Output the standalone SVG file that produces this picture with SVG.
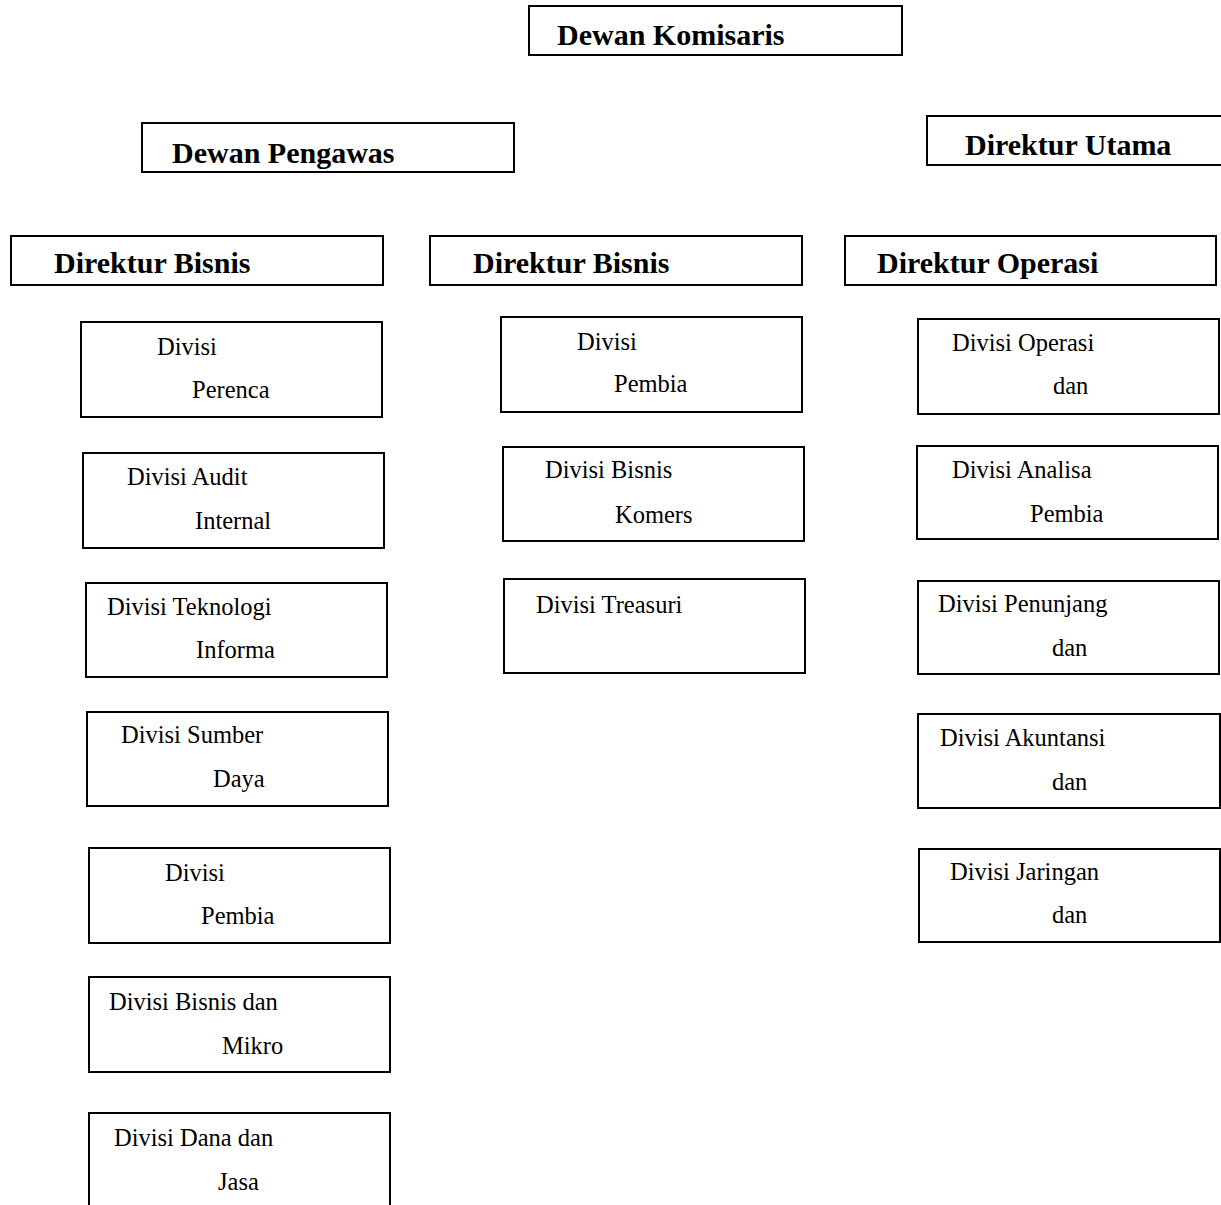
<svg xmlns="http://www.w3.org/2000/svg" width="1221" height="1205" viewBox="0 0 1221 1205">
<style>
.box{fill:#fff;stroke:#000;stroke-width:2}
.h{font-family:"Liberation Serif","Times New Roman",serif;font-weight:bold;font-size:30px;fill:#000}
.t{font-family:"Liberation Serif","Times New Roman",serif;font-size:24.5px;fill:#000}
</style>
<defs>
<clipPath id="cpPengawas"><rect x="142" y="123" width="372" height="48"/></clipPath>
<clipPath id="cpOperasi"><rect x="845" y="236" width="371" height="48"/></clipPath>
</defs>
<rect width="1221" height="1205" fill="#fff"/>
<g id="connectors"></g>
<g id="dewan-komisaris"><rect class="box" x="529" y="6" width="373" height="49"/><text class="h" x="557" y="45">Dewan Komisaris</text></g>
<g id="dewan-pengawas"><rect class="box" x="142" y="123" width="372" height="49"/><text class="h" x="172" y="163" clip-path="url(#cpPengawas)">Dewan Pengawas</text></g>
<g id="direktur-utama"><rect class="box" x="927" y="116" width="310" height="49"/><text class="h" x="965" y="155">Direktur Utama</text></g>
<g id="direktur-bisnis-1"><rect class="box" x="11" y="236" width="372" height="49"/><text class="h" x="54" y="273">Direktur Bisnis</text></g>
<g id="direktur-bisnis-2"><rect class="box" x="430" y="236" width="372" height="49"/><text class="h" x="473" y="273">Direktur Bisnis</text></g>
<g id="direktur-operasi"><rect class="box" x="845" y="236" width="371" height="49"/><text class="h" x="877" y="273" clip-path="url(#cpOperasi)">Direktur Operasi</text></g>

<g id="divisi-perenca"><rect class="box" x="81" y="322" width="301" height="95"/><text class="t" x="157" y="355">Divisi</text><text class="t" x="192" y="398">Perenca</text></g>
<g id="divisi-audit"><rect class="box" x="83" y="453" width="301" height="95"/><text class="t" x="127" y="485">Divisi Audit</text><text class="t" x="195" y="529">Internal</text></g>
<g id="divisi-teknologi"><rect class="box" x="86" y="583" width="301" height="94"/><text class="t" x="107" y="615">Divisi Teknologi</text><text class="t" x="196" y="658">Informa</text></g>
<g id="divisi-sumber"><rect class="box" x="87" y="712" width="301" height="94"/><text class="t" x="121" y="743">Divisi Sumber</text><text class="t" x="213" y="787">Daya</text></g>
<g id="divisi-pembia-1"><rect class="box" x="89" y="848" width="301" height="95"/><text class="t" x="165" y="881">Divisi</text><text class="t" x="201" y="924">Pembia</text></g>
<g id="divisi-bisnis-mikro"><rect class="box" x="89" y="977" width="301" height="95"/><text class="t" x="109" y="1010">Divisi Bisnis dan</text><text class="t" x="222" y="1054">Mikro</text></g>
<g id="divisi-dana"><rect class="box" x="89" y="1113" width="301" height="110"/><text class="t" x="114" y="1146">Divisi Dana dan</text><text class="t" x="218" y="1190">Jasa</text></g>

<g id="divisi-pembia-2"><rect class="box" x="501" y="317" width="301" height="95"/><text class="t" x="577" y="350">Divisi</text><text class="t" x="614" y="392">Pembia</text></g>
<g id="divisi-bisnis-komers"><rect class="box" x="503" y="447" width="301" height="94"/><text class="t" x="545" y="478">Divisi Bisnis</text><text class="t" x="615" y="523">Komers</text></g>
<g id="divisi-treasuri"><rect class="box" x="504" y="579" width="301" height="94"/><text class="t" x="536" y="613">Divisi Treasuri</text></g>

<g id="divisi-operasi"><rect class="box" x="918" y="319" width="301" height="95"/><text class="t" x="952" y="351">Divisi Operasi</text><text class="t" x="1053" y="394">dan</text></g>
<g id="divisi-analisa"><rect class="box" x="917" y="446" width="301" height="93"/><text class="t" x="952" y="478">Divisi Analisa</text><text class="t" x="1030" y="522">Pembia</text></g>
<g id="divisi-penunjang"><rect class="box" x="918" y="581" width="301" height="93"/><text class="t" x="938" y="612">Divisi Penunjang</text><text class="t" x="1052" y="656">dan</text></g>
<g id="divisi-akuntansi"><rect class="box" x="918" y="714" width="302" height="94"/><text class="t" x="940" y="746">Divisi Akuntansi</text><text class="t" x="1052" y="790">dan</text></g>
<g id="divisi-jaringan"><rect class="box" x="919" y="849" width="301" height="93"/><text class="t" x="950" y="880">Divisi Jaringan</text><text class="t" x="1052" y="923">dan</text></g>
</svg>
